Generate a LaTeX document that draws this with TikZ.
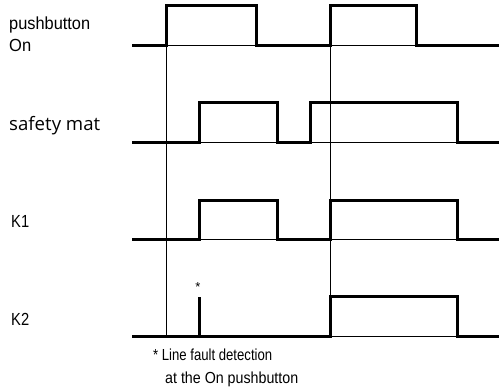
\documentclass[tikz,border=0pt]{standalone}
\usepackage{fontspec}
\usepackage{graphicx}
\setmainfont{Liberation Sans}
\newfontfamily\matfont{Open Sans}
\newcommand\fitw[2]{\resizebox{#1}{\height}{#2}}
\tikzset{
  sig/.style={line width=3pt, line join=miter, line cap=rect},
  thinl/.style={line width=1pt},
  lbl/.style={anchor=base west, inner sep=0pt, font=\fontsize{17.5}{20}\selectfont},
  foot/.style={anchor=base west, inner sep=0pt, font=\fontsize{16}{19}\selectfont},
}
\begin{document}
\begin{tikzpicture}[x=1pt,y=-1pt]
\useasboundingbox (0,0) rectangle (499,388);
% thin guide lines
\draw[thinl] (166,45) -- (166,336);
\draw[thinl] (330,45) -- (330,296);
\draw[thinl] (166,45) -- (256,45) (330,45) -- (416,45);
\draw[thinl] (199,142) -- (277,142) (310,142) -- (457,142);
\draw[thinl] (199,239) -- (277,239) (330,239) -- (457,239);
\draw[thinl] (330,336) -- (457,336);
% signals
\draw[sig] (133,45) -- (166,45) -- (166,5) -- (256,5) -- (256,45) -- (330,45) -- (330,5) -- (416,5) -- (416,45) -- (499,45);
\draw[sig] (133,142) -- (199,142) -- (199,102) -- (277,102) -- (277,142) -- (310,142) -- (310,102) -- (457,102) -- (457,142) -- (499,142);
\draw[sig] (133,239) -- (199,239) -- (199,200) -- (277,200) -- (277,239) -- (330,239) -- (330,200) -- (457,200) -- (457,239) -- (499,239);
\draw[sig] (133,336) -- (330,336) -- (330,296) -- (457,296) -- (457,336) -- (499,336);
\draw[sig, line cap=butt] (199,336) -- (199,297);
% labels
\node[lbl] (pb) at (9,29) {\fitw{81pt}{pushbutton}};
\node[lbl] (on) at (9,52) {\fitw{22pt}{On}};
\node[lbl, font=\matfont\fontsize{18.5}{21}\selectfont] (sm) at (9,130) {\fitw{91pt}{safety mat}};
\node[lbl] (k1) at (11,227) {\fitw{18pt}{K1}};
\node[lbl] (k2) at (11,325) {\fitw{18pt}{K2}};
\node[inner sep=0pt, font=\fontsize{13}{14}\selectfont] (ast) at (198,287) {*};
\node[foot] (f1) at (153,360) {\fitw{119pt}{* Line fault detection}};
\node[foot] (f2) at (165,383) {\fitw{133pt}{at the On pushbutton}};
\end{tikzpicture}
\end{document}
